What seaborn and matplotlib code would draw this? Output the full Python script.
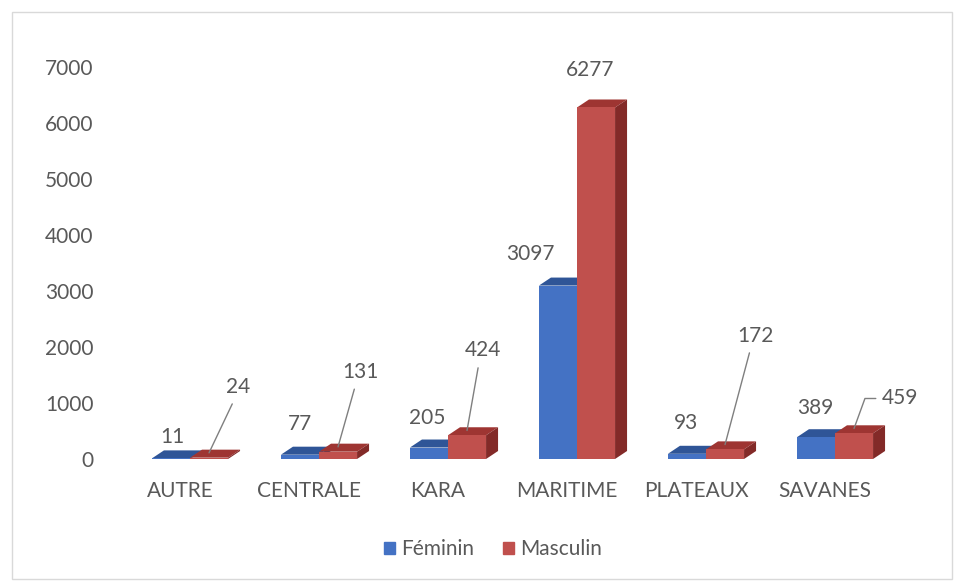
import matplotlib
matplotlib.use("Agg")
import matplotlib.pyplot as plt
import matplotlib.patches as mpatches
import seaborn as sns
import pandas as pd

categories = ["AUTRE", "CENTRALE", "KARA", "MARITIME", "PLATEAUX", "SAVANES"]
feminin = [11, 77, 205, 3097, 93, 389]
masculin = [24, 131, 424, 6277, 172, 459]
series_names = ["Féminin", "Masculin"]
yticks = [0, 1000, 2000, 3000, 4000, 5000, 6000, 7000]

df = pd.DataFrame({
    "Région": categories * 2,
    "Sexe": [series_names[0]] * len(categories) + [series_names[1]] * len(categories),
    "Effectif": feminin + masculin,
})

sns.set_theme(style="white")
plt.rcParams["font.family"] = ["Lato", "DejaVu Sans"]
GREY = "#595959"
FS = 15

W, H = 959, 583
AX_L, AX_W = 115.5, 774
AX_Y0, AX_Y1 = 459, 67
fig = plt.figure(figsize=(W / 100, H / 100), dpi=100)
ax = fig.add_axes([AX_L / W, 1 - AX_Y0 / H, AX_W / W, (AX_Y0 - AX_Y1) / H])

front = {"Féminin": "#4472C4", "Masculin": "#C0504D"}
top_c = {"Féminin": "#2F5597", "Masculin": "#9E3532"}
side_c = {"Féminin": "#264478", "Masculin": "#832A28"}

sns.barplot(data=df, x="Région", y="Effectif", hue="Sexe", order=categories,
            hue_order=series_names, palette=front, width=0.59, ax=ax,
            legend=False, saturation=1, linewidth=0, zorder=2)

ax.set_xlim(-0.5, len(categories) - 0.5)
ax.set_ylim(0, 7000)
ax.set_yticks(yticks)
ax.set_yticklabels([str(v) for v in yticks])

# pseudo-3D depth (pixels converted to data units)
px_x = len(categories) / AX_W
px_y = 7000 / (AX_Y0 - AX_Y1)
ddx, ddy = 12 * px_x, 8 * px_y
shift = 10 * px_x

bars = list(ax.patches)
n = len(categories)
for i, p in enumerate(bars):
    s = series_names[i // n]
    p.set_x(p.get_x() + shift)
    x, w, h = p.get_x(), p.get_width(), p.get_height()
    z = 2 + (i // n) * 2
    p.set_zorder(z + 1)
    top = mpatches.Polygon([(x, h), (x + w, h), (x + w + ddx, h + ddy), (x + ddx, h + ddy)],
                           closed=True, facecolor=top_c[s], edgecolor="none", zorder=z)
    side = mpatches.Polygon([(x + w, 0), (x + w + ddx, ddy), (x + w + ddx, h + ddy), (x + w, h)],
                            closed=True, facecolor=side_c[s], edgecolor="none", zorder=z)
    ax.add_patch(top)
    ax.add_patch(side)

# data labels: offsets in pixels relative to bar top-centre
fem_off = [(1, -21), (0, -31), (-2, -30), (-28, -32), (-1, -31), (-1, -29)]
mas_off = [(29, -61), (22, -70), (16, -75), (-6, -28), (30, -104), (46, -25)]
mas_line = ["straight", "straight", "straight", None, "straight", "elbow"]

for i in range(n):
    pf = bars[i]
    pm = bars[n + i]
    xf = pf.get_x() + pf.get_width() / 2
    ax.annotate(str(feminin[i]), xy=(xf, pf.get_height()),
                xytext=(fem_off[i][0] * 0.72, -fem_off[i][1] * 0.72),
                textcoords="offset points", ha="center", va="center",
                fontsize=FS, color=GREY, zorder=10)
    xm = pm.get_x() + pm.get_width() / 2
    if mas_line[i] == "straight":
        ap = dict(arrowstyle="-", color="#7F7F7F", lw=1, shrinkA=3, shrinkB=0,
                  relpos=(0.4, 0.0))
    elif mas_line[i] == "elbow":
        ap = dict(arrowstyle="-", color="#7F7F7F", lw=1, shrinkA=2, shrinkB=0,
                  relpos=(0.0, 0.5), connectionstyle="angle,angleA=0,angleB=70,rad=0")
    else:
        ap = None
    ax.annotate(str(masculin[i]), xy=(xm, pm.get_height() + ddy * 0.6),
                xytext=(mas_off[i][0] * 0.72, -(mas_off[i][1] - 5) * 0.72),
                textcoords="offset points", ha="center", va="center",
                fontsize=FS, color=GREY, arrowprops=ap, zorder=10)

ax.set_xlabel("")
ax.set_ylabel("")
for sp in ax.spines.values():
    sp.set_visible(False)
ax.tick_params(axis="y", length=0, pad=16, labelsize=FS, labelcolor=GREY)
ax.tick_params(axis="x", length=0, pad=16, labelsize=FS, labelcolor=GREY)
ax.grid(False)

handles = [mpatches.Patch(color=front[s], label=s) for s in series_names]
fig.legend(handles=handles, loc="center", bbox_to_anchor=(493 / W, 1 - 549 / H), ncol=2,
           frameon=False, handlelength=0.5, handleheight=0.5, handletextpad=0.3,
           columnspacing=1.4, fontsize=FS, labelcolor=GREY)

fig.patches.append(mpatches.Rectangle((12 / W, 4 / H), 940 / W, 567 / H,
                                      transform=fig.transFigure, fill=False,
                                      edgecolor="#D9D9D9", lw=1))

fig.savefig("out.png", dpi=100)
